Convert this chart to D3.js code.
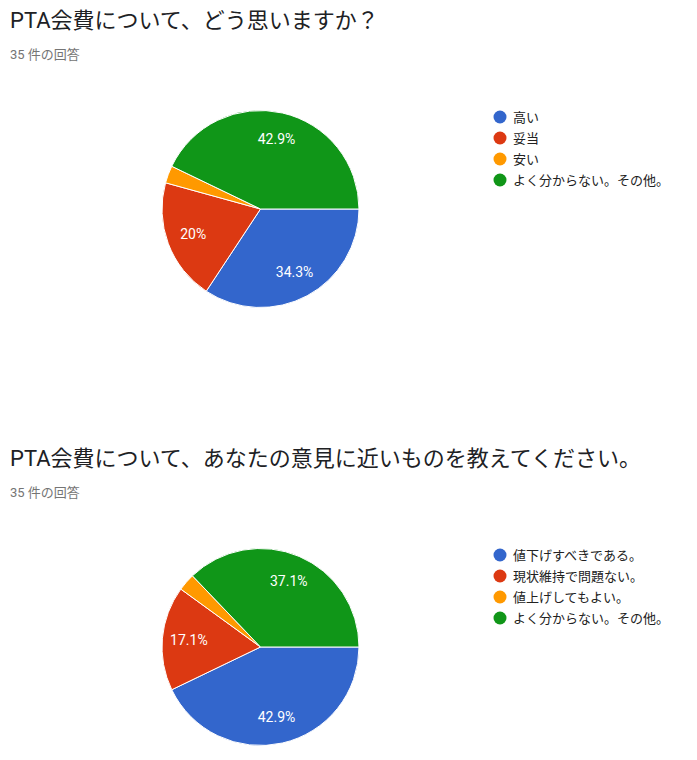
<!DOCTYPE html>
<html>
<head>
<meta charset="utf-8">
<script src="https://cdn.jsdelivr.net/npm/d3@7"></script>
<style>
  body { margin: 0; background: #fff; }
  text { font-family: Roboto, "Noto Sans CJK JP", sans-serif; }
</style>
</head>
<body>
<svg id="chart" width="697" height="760"></svg>
<script>
const colors = ["#3366cc", "#dc3912", "#ff9900", "#109618"];

const titles = [
  "PTA会費について、どう思いますか？",
  "PTA会費について、あなたの意見に近いものを教えてください。"
];
const subtitle = "35 件の回答";

const labels1 = ["高い", "妥当", "安い", "よく分からない。その他。"];
const counts1 = [12, 7, 1, 15];

const labels2 = ["値下げすべきである。", "現状維持で問題ない。", "値上げしてもよい。", "よく分からない。その他。"];
const counts2 = [15, 6, 1, 13];

const svg = d3.select("#chart");

function drawPie(top, title, labels, counts) {
  const g = svg.append("g").attr("transform", `translate(0,${top})`);

  g.append("text")
    .attr("x", 10).attr("y", 28)
    .attr("font-size", 22)
    .attr("fill", "#202124")
    .text(title);

  g.append("text")
    .attr("x", 10).attr("y", 59)
    .attr("font-size", 13)
    .attr("fill", "#757575")
    .text(subtitle);

  const r = 98.5;
  const cx = 260.5, cy = 209;
  const total = d3.sum(counts);

  const pie = d3.pie().sort(null)
    .startAngle(Math.PI / 2)
    .endAngle(Math.PI / 2 + 2 * Math.PI);
  const arcs = pie(counts);
  const arc = d3.arc().innerRadius(0).outerRadius(r);
  const labelArc = d3.arc().innerRadius(r * 0.73).outerRadius(r * 0.73);

  const pg = g.append("g").attr("transform", `translate(${cx},${cy})`);
  pg.selectAll("path")
    .data(arcs)
    .enter()
    .append("path")
    .attr("d", arc)
    .attr("fill", (d, i) => colors[i])
    .attr("stroke", "#fff")
    .attr("stroke-width", 1);

  pg.selectAll(".lbl")
    .data(arcs.filter(d => d.value / total > 0.05))
    .enter()
    .append("text")
    .attr("class", "lbl")
    .attr("transform", d => `translate(${labelArc.centroid(d)})`)
    .attr("text-anchor", "middle")
    .attr("dy", "0.35em")
    .attr("font-size", 14)
    .attr("fill", "#fff")
    .text(d => {
      const p = Math.round(d.value / total * 1000) / 10;
      return p + "%";
    });

  const legend = g.append("g").attr("transform", "translate(500,117)");
  const item = legend.selectAll("g")
    .data(labels)
    .enter()
    .append("g")
    .attr("transform", (d, i) => `translate(0,${i * 21})`);
  item.append("circle").attr("r", 6.5).attr("fill", (d, i) => colors[i]);
  item.append("text")
    .attr("x", 13).attr("dy", "0.35em")
    .attr("font-size", 13)
    .attr("fill", "#222")
    .text(d => d);
}

drawPie(0, titles[0], labels1, counts1);
drawPie(438, titles[1], labels2, counts2);
</script>
</body>
</html>
